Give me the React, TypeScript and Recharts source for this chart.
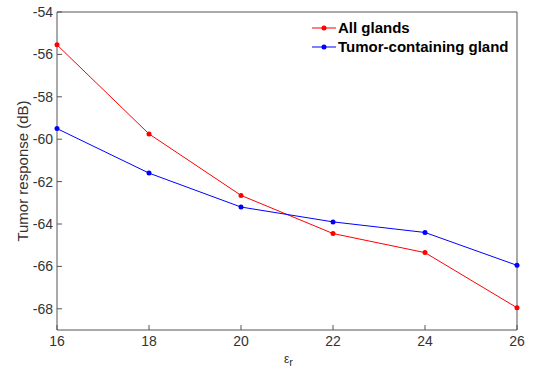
import { Line, LineChart, XAxis, YAxis } from "recharts";

const epsR = [16, 18, 20, 22, 24, 26];
const allGlands = [-55.55, -59.75, -62.65, -64.45, -65.35, -67.95];
const tumorGland = [-59.5, -61.6, -63.2, -63.9, -64.4, -65.95];
const xTicks = [16, 18, 20, 22, 24, 26];
const yTicks = [-54, -56, -58, -60, -62, -64, -66, -68];

const data = epsR.map((e, i) => ({ e, all: allGlands[i], tumor: tumorGland[i] }));

const axisColor = "#555";
const font = "'Liberation Sans', Arial, sans-serif";
const tickStyle = { fill: "#333", fontSize: 14, fontFamily: font };

const series = [
  { name: "All glands", color: "#ff0000" },
  { name: "Tumor-containing gland", color: "#0000ff" },
];

function LegendBox() {
  return (
    <div
      style={{
        position: "absolute",
        left: 312,
        top: 18,
        fontFamily: font,
        fontWeight: "bold",
        fontSize: 15,
        color: "#000",
        lineHeight: "19px",
      }}
    >
      {series.map((s) => (
        <div key={s.name} style={{ display: "flex", alignItems: "center" }}>
          <svg width={24} height={10} style={{ marginRight: 2 }}>
            <line x1={0} y1={5} x2={24} y2={5} stroke={s.color} strokeWidth={1} />
            <circle cx={12} cy={5} r={2.5} fill={s.color} />
          </svg>
          <span>{s.name}</span>
        </div>
      ))}
    </div>
  );
}

export default function App() {
  return (
    <div style={{ position: "absolute", left: 0, top: 0, width: 535, height: 372, background: "#fff" }}>
      <LineChart width={535} height={372} data={data} margin={{ top: 11, right: 17, bottom: 12, left: 12 }}>
        <XAxis
          dataKey="e"
          type="number"
          domain={[16, 26]}
          ticks={xTicks}
          height={30}
          stroke={axisColor}
          tickSize={-5}
          tickMargin={11}
          tick={tickStyle}
        />
        <XAxis
          xAxisId="top"
          dataKey="e"
          orientation="top"
          type="number"
          domain={[16, 26]}
          ticks={xTicks}
          height={1}
          stroke={axisColor}
          tickSize={-5}
          tick={false}
        />
        <YAxis
          type="number"
          domain={[-69, -54]}
          ticks={yTicks}
          width={45}
          stroke={axisColor}
          tickSize={-5}
          tickMargin={9}
          tick={tickStyle}
        />
        <YAxis
          yAxisId="right"
          orientation="right"
          type="number"
          domain={[-69, -54]}
          ticks={yTicks}
          width={1}
          stroke={axisColor}
          tickSize={-5}
          tick={false}
        />
        <Line
          type="linear"
          dataKey="all"
          name="All glands"
          stroke="#ff0000"
          strokeWidth={1}
          dot={{ r: 2.5, fill: "#ff0000", stroke: "none" }}
          isAnimationActive={false}
        />
        <Line
          type="linear"
          dataKey="tumor"
          name="Tumor-containing gland"
          stroke="#0000ff"
          strokeWidth={1}
          dot={{ r: 2.5, fill: "#0000ff", stroke: "none" }}
          isAnimationActive={false}
        />
      </LineChart>
      <LegendBox />
      <div
        style={{
          position: "absolute",
          left: 22,
          top: 171,
          transform: "translate(-50%, -50%) rotate(-90deg)",
          whiteSpace: "nowrap",
          fontFamily: font,
          fontSize: 15,
          color: "#333",
        }}
      >
        Tumor response (dB)
      </div>
      <div style={{ position: "absolute", left: 284, top: 352, fontFamily: font, fontSize: 12, color: "#333" }}>
        ε<sub style={{ fontSize: 11 }}>r</sub>
      </div>
    </div>
  );
}
